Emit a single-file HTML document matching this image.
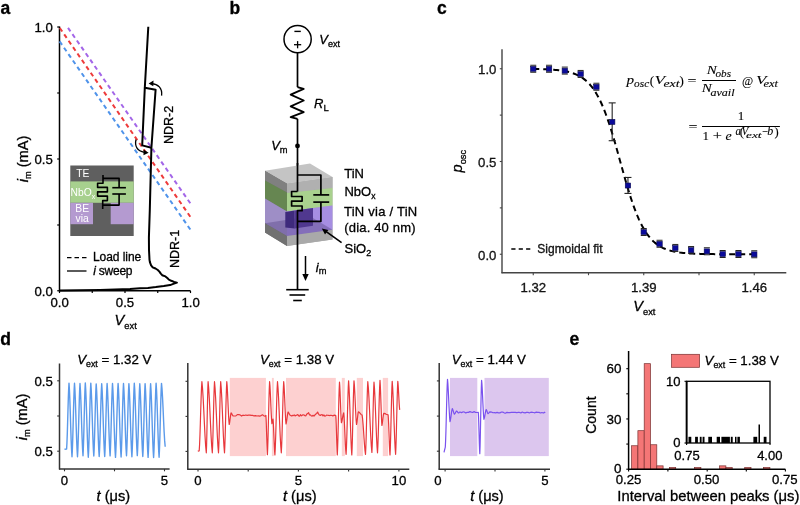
<!DOCTYPE html>
<html><head><meta charset="utf-8"><style>
html,body{margin:0;padding:0;background:#fff;}
svg{display:block;filter:blur(0.4px);}
text{stroke:#000;stroke-width:0.3px;}
text.w{stroke:none;}
text.n{stroke-width:0.1px;}

</style></head><body>
<svg width="800" height="505" viewBox="0 0 800 505">
<rect width="800" height="505" fill="#fff"/>
<text  x="0.50" y="14.00" font-size="17.5" text-anchor="start" fill="#000" font-weight="bold" font-style="normal" font-family='"Liberation Sans", sans-serif' >a</text>
<text  x="229.50" y="14.00" font-size="17.5" text-anchor="start" fill="#000" font-weight="bold" font-style="normal" font-family='"Liberation Sans", sans-serif' >b</text>
<text  x="437.00" y="14.00" font-size="17.5" text-anchor="start" fill="#000" font-weight="bold" font-style="normal" font-family='"Liberation Sans", sans-serif' >c</text>
<text  x="0.30" y="345.00" font-size="17.5" text-anchor="start" fill="#000" font-weight="bold" font-style="normal" font-family='"Liberation Sans", sans-serif' >d</text>
<text  x="569.60" y="345.20" font-size="17.5" text-anchor="start" fill="#000" font-weight="bold" font-style="normal" font-family='"Liberation Sans", sans-serif' >e</text>
<line x1="59.50" y1="26.50" x2="59.50" y2="291.25" stroke="#000" stroke-width="1.5" />
<line x1="58.80" y1="290.75" x2="190.50" y2="290.75" stroke="#000" stroke-width="1.5" />
<line x1="57.20" y1="27.00" x2="59.50" y2="27.00" stroke="#000" stroke-width="1.2" />
<line x1="57.20" y1="93.00" x2="59.50" y2="93.00" stroke="#000" stroke-width="1.2" />
<line x1="57.20" y1="159.00" x2="59.50" y2="159.00" stroke="#000" stroke-width="1.2" />
<line x1="57.20" y1="225.00" x2="59.50" y2="225.00" stroke="#000" stroke-width="1.2" />
<line x1="57.20" y1="290.75" x2="59.50" y2="290.75" stroke="#000" stroke-width="1.2" />
<line x1="59.50" y1="290.75" x2="59.50" y2="293.05" stroke="#000" stroke-width="1.2" />
<line x1="92.25" y1="290.75" x2="92.25" y2="293.05" stroke="#000" stroke-width="1.2" />
<line x1="125.00" y1="290.75" x2="125.00" y2="293.05" stroke="#000" stroke-width="1.2" />
<line x1="157.75" y1="290.75" x2="157.75" y2="293.05" stroke="#000" stroke-width="1.2" />
<line x1="190.50" y1="290.75" x2="190.50" y2="293.05" stroke="#000" stroke-width="1.2" />
<text  x="52.80" y="32.20" font-size="13.2" text-anchor="end" fill="#000" font-weight="normal" font-style="normal" font-family='"Liberation Sans", sans-serif' >1.0</text>
<text  x="52.80" y="164.00" font-size="13.2" text-anchor="end" fill="#000" font-weight="normal" font-style="normal" font-family='"Liberation Sans", sans-serif' >0.5</text>
<text  x="52.80" y="295.80" font-size="13.2" text-anchor="end" fill="#000" font-weight="normal" font-style="normal" font-family='"Liberation Sans", sans-serif' >0.0</text>
<text  x="59.60" y="306.80" font-size="13.2" text-anchor="middle" fill="#000" font-weight="normal" font-style="normal" font-family='"Liberation Sans", sans-serif' >0.0</text>
<text  x="125.00" y="306.80" font-size="13.2" text-anchor="middle" fill="#000" font-weight="normal" font-style="normal" font-family='"Liberation Sans", sans-serif' >0.5</text>
<text  x="190.70" y="306.80" font-size="13.2" text-anchor="middle" fill="#000" font-weight="normal" font-style="normal" font-family='"Liberation Sans", sans-serif' >1.0</text>
<text x="114.6" y="325.4" font-size="14.6" text-anchor="start"   font-family='"Liberation Sans", sans-serif'><tspan font-style="italic">V</tspan><tspan font-size="9.3" dy="3.2">ext</tspan></text>
<text transform="translate(28.2,159) rotate(-90)" font-size="14.6" text-anchor="middle"   font-family='"Liberation Sans", sans-serif'><tspan font-style="italic">i</tspan><tspan font-size="9.3" dy="3.2">m</tspan><tspan dy="-3.2"> (mA)</tspan></text>
<line x1="190.30" y1="203.30" x2="68.00" y2="27.80" stroke="#a366e8" stroke-width="2" stroke-dasharray="4.3 3.463"/>
<line x1="190.30" y1="216.80" x2="59.80" y2="28.00" stroke="#ee3b3b" stroke-width="2" stroke-dasharray="4.3 3.466"/>
<line x1="190.30" y1="229.50" x2="59.60" y2="41.40" stroke="#4f93ea" stroke-width="2" stroke-dasharray="4.3 3.450"/>
<rect x="70.30" y="165.50" width="63.40" height="70.50" fill="#5f5f5f" stroke="none" stroke-width="1" />
<rect x="70.30" y="181.40" width="63.40" height="21.40" fill="#a7d08e" stroke="none" stroke-width="1" />
<rect x="70.30" y="202.80" width="22.70" height="21.40" fill="#b49ad0" stroke="none" stroke-width="1" />
<rect x="110.70" y="202.80" width="23.00" height="21.40" fill="#b49ad0" stroke="none" stroke-width="1" />
<text class="w" x="76.30" y="176.60" font-size="10.3" text-anchor="start" fill="#fff" font-weight="normal" font-style="normal" font-family='"Liberation Sans", sans-serif' >TE</text>
<text class="w" x="70.6" y="196.1" font-size="10.3" fill="#fff" font-family='"Liberation Sans", sans-serif'>NbO<tspan font-size="7" dy="2.9">x</tspan></text>
<text class="w" x="75.30" y="212.30" font-size="10.3" text-anchor="start" fill="#fff" font-weight="normal" font-style="normal" font-family='"Liberation Sans", sans-serif' >BE</text>
<text class="w" x="75.60" y="221.80" font-size="10.3" text-anchor="start" fill="#fff" font-weight="normal" font-style="normal" font-family='"Liberation Sans", sans-serif' >via</text>
<polyline points="103.00,175.00 103.00,183.30 97.60,183.30 97.60,187.40 107.40,187.40 107.40,191.90 97.60,191.90 97.60,196.10 107.40,196.10 107.40,200.60 102.70,200.60 102.70,208.90" stroke="#000" stroke-width="1.6" fill="none" stroke-linejoin="round" />
<polyline points="103.00,178.40 119.10,178.40 119.10,187.70" stroke="#000" stroke-width="1.6" fill="none" stroke-linejoin="round" />
<line x1="112.30" y1="187.70" x2="125.90" y2="187.70" stroke="#000" stroke-width="1.6" />
<line x1="112.30" y1="194.00" x2="125.90" y2="194.00" stroke="#000" stroke-width="1.6" />
<polyline points="119.10,194.00 119.10,205.10 102.70,205.10" stroke="#000" stroke-width="1.6" fill="none" stroke-linejoin="round" />
<line x1="67.00" y1="257.60" x2="86.50" y2="257.60" stroke="#000" stroke-width="1.3" stroke-dasharray="4.5 3"/>
<text  x="93.00" y="260.60" font-size="12" text-anchor="start" fill="#000" font-weight="normal" font-style="normal" font-family='"Liberation Sans", sans-serif' textLength="48.2" lengthAdjust="spacing">Load line</text>
<line x1="67.00" y1="271.00" x2="86.50" y2="271.00" stroke="#000" stroke-width="1.3" />
<text x="93.3" y="275.1" font-size="12" textLength="39.2" lengthAdjust="spacing" font-family='"Liberation Sans", sans-serif'><tspan font-style="italic">i</tspan> sweep</text>
<polyline points="59.50,290.40 100.00,289.90 130.00,288.90 140.00,288.30 147.90,287.90 155.80,287.10 163.80,286.10 170.10,285.10 173.30,283.90 176.90,282.60 174.10,281.90 171.30,280.80 168.90,279.60 167.30,278.00 165.40,276.40 162.20,275.20 160.80,273.60 159.40,271.60 157.80,270.00 155.50,268.50 152.70,267.30 151.10,265.30 149.90,262.10 149.50,259.80 149.00,250.00 148.90,237.60 149.80,210.00 151.40,147.80 155.60,89.70 144.80,87.70 148.30,26.70" stroke="#000" stroke-width="2.0" fill="none" stroke-linejoin="round" />
<polyline points="144.80,87.70 142.20,145.40 151.40,147.80" stroke="#000" stroke-width="2.0" fill="none" stroke-linejoin="round" />
<path d="M161.6,95.6 C162.5,88 158,84 151.5,83.6" fill="none" stroke="#000" stroke-width="1.3"/>
<polygon points="148.60,83.40 153.50,80.60 153.30,86.20" fill="#000" stroke="none" stroke-width="1" />
<path d="M136,139.5 C134.5,146 137,151 144.5,152.3" fill="none" stroke="#000" stroke-width="1.3"/>
<polygon points="148.60,152.70 143.60,149.60 143.50,155.30" fill="#000" stroke="none" stroke-width="1" />
<text transform="translate(173.3,144) rotate(-90)" font-size="12.5" font-family='"Liberation Sans", sans-serif'>NDR-2</text>
<text transform="translate(179.3,268.1) rotate(-90)" font-size="12.5" font-family='"Liberation Sans", sans-serif'>NDR-1</text>
<circle cx="297.6" cy="39.2" r="13.6" fill="none" stroke="#000" stroke-width="1.5"/>
<line x1="294.40" y1="31.40" x2="300.80" y2="31.40" stroke="#000" stroke-width="1.4" />
<line x1="294.00" y1="44.70" x2="301.20" y2="44.70" stroke="#000" stroke-width="1.3" />
<line x1="297.60" y1="41.10" x2="297.60" y2="48.30" stroke="#000" stroke-width="1.3" />
<line x1="297.50" y1="52.80" x2="297.50" y2="87.10" stroke="#000" stroke-width="1.7" />
<polyline points="297.50,87.10 303.70,88.90 290.70,94.60 303.70,100.50 290.70,106.40 303.70,112.10 290.70,117.10 297.50,118.90" stroke="#000" stroke-width="1.9" fill="none" stroke-linejoin="round" />
<line x1="297.50" y1="118.90" x2="297.50" y2="170.00" stroke="#000" stroke-width="1.7" />
<circle cx="297.5" cy="145.9" r="2.4" fill="#000"/>
<text x="319.3" y="43.5" font-size="13" text-anchor="start"   font-family='"Liberation Sans", sans-serif'><tspan font-style="italic">V</tspan><tspan font-size="9" dy="3">ext</tspan></text>
<text x="314" y="108.2" font-size="13" text-anchor="start"   font-family='"Liberation Sans", sans-serif'><tspan font-style="italic">R</tspan><tspan font-size="9.5" dy="2.7">L</tspan></text>
<text x="271.2" y="150.4" font-size="13" text-anchor="start"   font-family='"Liberation Sans", sans-serif'><tspan font-style="italic">V</tspan><tspan font-size="9.3" dy="2.8">m</tspan></text>
<polygon points="265.00,170.80 287.00,183.50 287.00,246.00 265.00,232.50" fill="#777777" stroke="none" stroke-width="1" />
<polygon points="287.00,183.50 332.50,177.00 332.50,239.50 287.00,246.00" fill="#aaaaaa" stroke="none" stroke-width="1" />
<polygon points="265.00,170.80 310.00,163.50 332.50,177.00 287.00,183.50" fill="#c4c4c4" stroke="none" stroke-width="1" />
<polygon points="265.00,170.80 287.00,183.50 287.00,192.50 265.00,180.50" fill="#808080" stroke="none" stroke-width="1" />
<polygon points="287.00,183.50 332.50,177.00 332.50,188.00 287.00,193.00" fill="#b0b0b0" stroke="none" stroke-width="1" />
<polygon points="265.00,180.50 287.00,192.50 287.00,211.50 265.00,198.50" fill="#668651" stroke="none" stroke-width="1" />
<polygon points="287.00,193.00 332.50,188.00 332.50,205.50 287.00,211.50" fill="#a9d18e" stroke="none" stroke-width="1" />
<polygon points="265.00,198.50 287.00,211.50 287.00,236.10 265.00,223.30" fill="#9e8ec6" stroke="none" stroke-width="1" />
<polygon points="287.00,211.50 332.50,205.50 332.50,229.70 287.00,236.10" fill="#a68ee2" stroke="none" stroke-width="1" />
<polygon points="265.00,223.30 287.00,236.10 287.00,246.00 265.00,232.50" fill="#717171" stroke="none" stroke-width="1" />
<polygon points="287.00,236.10 332.50,229.70 332.50,239.50 287.00,246.00" fill="#a9a9a9" stroke="none" stroke-width="1" />
<polygon points="265.00,223.30 310.00,216.20 332.50,229.70 287.00,236.10" fill="#5a4a8a" stroke="none" stroke-width="1" opacity="0.45"/>
<polygon points="285.30,211.90 294.70,210.60 294.70,228.40 285.30,227.60" fill="#3e2a7c" stroke="none" stroke-width="1" />
<polygon points="294.70,210.60 313.00,208.00 313.00,225.80 294.70,228.40" fill="#50388f" stroke="none" stroke-width="1" />
<line x1="297.50" y1="163.00" x2="297.50" y2="191.50" stroke="#000" stroke-width="1.7" />
<polyline points="297.50,191.50 291.60,191.50 291.60,196.50 302.10,196.50 302.10,201.10 291.60,201.10 291.60,206.00 302.10,206.00 302.10,210.70 297.50,210.70 297.50,289.70" stroke="#000" stroke-width="1.7" fill="none" stroke-linejoin="round" />
<polyline points="297.50,175.00 320.90,175.00 320.90,194.90" stroke="#000" stroke-width="1.7" fill="none" stroke-linejoin="round" />
<line x1="313.30" y1="194.90" x2="329.20" y2="194.90" stroke="#000" stroke-width="1.7" />
<line x1="313.30" y1="202.10" x2="329.20" y2="202.10" stroke="#000" stroke-width="1.7" />
<polyline points="320.90,202.10 320.90,221.30 297.50,221.30" stroke="#000" stroke-width="1.7" fill="none" stroke-linejoin="round" />
<text  x="344.20" y="178.00" font-size="13" text-anchor="start" fill="#000" font-weight="normal" font-style="normal" font-family='"Liberation Sans", sans-serif' >TiN</text>
<text x="344.4" y="195.5" font-size="13" font-family='"Liberation Sans", sans-serif'>NbO<tspan font-size="8.6" dy="3.3">x</tspan></text>
<text  x="344.00" y="216.00" font-size="13" text-anchor="start" fill="#000" font-weight="normal" font-style="normal" font-family='"Liberation Sans", sans-serif' textLength="73.2" lengthAdjust="spacing">TiN via / TiN</text>
<text  x="344.30" y="232.30" font-size="13" text-anchor="start" fill="#000" font-weight="normal" font-style="normal" font-family='"Liberation Sans", sans-serif' textLength="71.2" lengthAdjust="spacing">(dia. 40 nm)</text>
<text x="344.5" y="253.2" font-size="13" font-family='"Liberation Sans", sans-serif'>SiO<tspan font-size="9" dy="2.6">2</tspan></text>
<line x1="341.60" y1="242.60" x2="325.50" y2="231.20" stroke="#000" stroke-width="1.6" />
<polygon points="321.80,228.60 328.30,229.90 325.00,234.40" fill="#000" stroke="none" stroke-width="1" />
<line x1="305.50" y1="256.00" x2="305.50" y2="276.00" stroke="#000" stroke-width="1.5" />
<polygon points="305.50,281.00 302.30,274.00 308.70,274.00" fill="#000" stroke="none" stroke-width="1" />
<text x="315.8" y="271.7" font-size="13" text-anchor="start"   font-family='"Liberation Sans", sans-serif'><tspan font-style="italic">i</tspan><tspan font-size="9.3" dy="2.2">m</tspan></text>
<line x1="286.20" y1="289.70" x2="308.70" y2="289.70" stroke="#000" stroke-width="1.6" />
<line x1="289.50" y1="295.00" x2="305.20" y2="295.00" stroke="#000" stroke-width="1.6" />
<line x1="293.20" y1="300.50" x2="301.80" y2="300.50" stroke="#000" stroke-width="1.6" />
<line x1="502.00" y1="49.30" x2="502.00" y2="273.20" stroke="#444" stroke-width="1.4" />
<line x1="501.50" y1="272.70" x2="786.30" y2="272.70" stroke="#444" stroke-width="1.4" />
<line x1="499.80" y1="254.25" x2="502.00" y2="254.25" stroke="#444" stroke-width="1.1" />
<line x1="499.80" y1="207.88" x2="502.00" y2="207.88" stroke="#444" stroke-width="1.1" />
<line x1="499.80" y1="161.50" x2="502.00" y2="161.50" stroke="#444" stroke-width="1.1" />
<line x1="499.80" y1="115.12" x2="502.00" y2="115.12" stroke="#444" stroke-width="1.1" />
<line x1="499.80" y1="68.75" x2="502.00" y2="68.75" stroke="#444" stroke-width="1.1" />
<line x1="533.25" y1="272.70" x2="533.25" y2="275.20" stroke="#444" stroke-width="1.1" />
<line x1="588.50" y1="272.70" x2="588.50" y2="275.20" stroke="#444" stroke-width="1.1" />
<line x1="643.75" y1="272.70" x2="643.75" y2="275.20" stroke="#444" stroke-width="1.1" />
<line x1="699.00" y1="272.70" x2="699.00" y2="275.20" stroke="#444" stroke-width="1.1" />
<line x1="754.25" y1="272.70" x2="754.25" y2="275.20" stroke="#444" stroke-width="1.1" />
<text  x="496.40" y="74.00" font-size="13.2" text-anchor="end" fill="#222" font-weight="normal" font-style="normal" font-family='"Liberation Sans", sans-serif' >1.0</text>
<text  x="496.40" y="166.80" font-size="13.2" text-anchor="end" fill="#222" font-weight="normal" font-style="normal" font-family='"Liberation Sans", sans-serif' >0.5</text>
<text  x="496.40" y="259.60" font-size="13.2" text-anchor="end" fill="#222" font-weight="normal" font-style="normal" font-family='"Liberation Sans", sans-serif' >0.0</text>
<text  x="533.25" y="292.20" font-size="13.2" text-anchor="middle" fill="#222" font-weight="normal" font-style="normal" font-family='"Liberation Sans", sans-serif' >1.32</text>
<text  x="643.75" y="292.20" font-size="13.2" text-anchor="middle" fill="#222" font-weight="normal" font-style="normal" font-family='"Liberation Sans", sans-serif' >1.39</text>
<text  x="754.25" y="292.20" font-size="13.2" text-anchor="middle" fill="#222" font-weight="normal" font-style="normal" font-family='"Liberation Sans", sans-serif' >1.46</text>
<text x="633.3" y="311.3" font-size="14.6" text-anchor="start"   font-family='"Liberation Sans", sans-serif'><tspan font-style="italic">V</tspan><tspan font-size="9.3" dy="3.2">ext</tspan></text>
<text transform="translate(462.4,161.2) rotate(-90)" font-size="14.6" text-anchor="middle"   font-family='"Liberation Sans", sans-serif'><tspan font-style="italic">p</tspan><tspan font-size="9.3" dy="3.2">osc</tspan></text>
<polyline points="533.25,68.96 534.83,68.98 536.41,69.01 537.99,69.05 539.56,69.09 541.14,69.13 542.72,69.18 544.30,69.24 545.88,69.30 547.46,69.37 549.04,69.45 550.61,69.55 552.19,69.65 553.77,69.77 555.35,69.90 556.93,70.05 558.51,70.22 560.09,70.41 561.66,70.63 563.24,70.87 564.82,71.15 566.40,71.46 567.98,71.81 569.56,72.21 571.14,72.65 572.71,73.15 574.29,73.71 575.87,74.35 577.45,75.06 579.03,75.85 580.61,76.75 582.19,77.75 583.76,78.87 585.34,80.11 586.92,81.51 588.50,83.05 590.08,84.77 591.66,86.67 593.24,88.77 594.81,91.09 596.39,93.63 597.97,96.42 599.55,99.45 601.13,102.75 602.71,106.31 604.29,110.15 605.86,114.25 607.44,118.63 609.02,123.26 610.60,128.13 612.18,133.22 613.76,138.51 615.34,143.96 616.91,149.54 618.49,155.21 620.07,160.93 621.65,166.65 623.23,172.33 624.81,177.93 626.39,183.41 627.96,188.74 629.54,193.87 631.12,198.79 632.70,203.47 634.28,207.89 635.86,212.05 637.44,215.94 639.01,219.56 640.59,222.91 642.17,226.00 643.75,228.83 645.33,231.42 646.91,233.78 648.49,235.92 650.06,237.86 651.64,239.62 653.22,241.20 654.80,242.62 656.38,243.90 657.96,245.04 659.54,246.06 661.11,246.98 662.69,247.79 664.27,248.52 665.85,249.17 667.43,249.74 669.01,250.25 670.59,250.71 672.16,251.11 673.74,251.47 675.32,251.79 676.90,252.07 678.48,252.32 680.06,252.55 681.64,252.74 683.21,252.92 684.79,253.07 686.37,253.21 687.95,253.33 689.53,253.43 691.11,253.53 692.69,253.61 694.26,253.69 695.84,253.75 697.42,253.81 699.00,253.86 700.58,253.91 702.16,253.95 703.74,253.98 705.31,254.01 706.89,254.04 708.47,254.06 710.05,254.09 711.63,254.10 713.21,254.12 714.79,254.14 716.36,254.15 717.94,254.16 719.52,254.17 721.10,254.18 722.68,254.19 724.26,254.20 725.84,254.20 727.41,254.21 728.99,254.21 730.57,254.22 732.15,254.22 733.73,254.22 735.31,254.23 736.89,254.23 738.46,254.23 740.04,254.23 741.62,254.24 743.20,254.24 744.78,254.24 746.36,254.24 747.94,254.24 749.51,254.24 751.09,254.24 752.67,254.24 754.25,254.24" stroke="#000" stroke-width="2.0" fill="none" stroke-linejoin="round" stroke-dasharray="6 4"/>
<line x1="530.25" y1="65.25" x2="536.25" y2="65.25" stroke="#222" stroke-width="1.0" />
<line x1="530.25" y1="72.25" x2="536.25" y2="72.25" stroke="#222" stroke-width="1.0" />
<rect x="530.55" y="66.35" width="5.40" height="5.00" fill="#0a0a9a" stroke="#0a0a50" stroke-width="0.6" />
<line x1="546.04" y1="65.25" x2="552.04" y2="65.25" stroke="#222" stroke-width="1.0" />
<line x1="546.04" y1="72.25" x2="552.04" y2="72.25" stroke="#222" stroke-width="1.0" />
<rect x="546.34" y="66.35" width="5.40" height="5.00" fill="#0a0a9a" stroke="#0a0a50" stroke-width="0.6" />
<line x1="561.82" y1="67.10" x2="567.82" y2="67.10" stroke="#222" stroke-width="1.0" />
<line x1="561.82" y1="74.10" x2="567.82" y2="74.10" stroke="#222" stroke-width="1.0" />
<rect x="562.12" y="68.20" width="5.40" height="5.00" fill="#0a0a9a" stroke="#0a0a50" stroke-width="0.6" />
<line x1="577.61" y1="70.44" x2="583.61" y2="70.44" stroke="#222" stroke-width="1.0" />
<line x1="577.61" y1="77.44" x2="583.61" y2="77.44" stroke="#222" stroke-width="1.0" />
<rect x="577.91" y="71.54" width="5.40" height="5.00" fill="#0a0a9a" stroke="#0a0a50" stroke-width="0.6" />
<line x1="593.39" y1="83.24" x2="599.39" y2="83.24" stroke="#222" stroke-width="1.0" />
<line x1="593.39" y1="90.24" x2="599.39" y2="90.24" stroke="#222" stroke-width="1.0" />
<rect x="593.69" y="84.34" width="5.40" height="5.00" fill="#0a0a9a" stroke="#0a0a50" stroke-width="0.6" />
<line x1="612.18" y1="102.88" x2="612.18" y2="140.72" stroke="#222" stroke-width="1.1" />
<line x1="608.68" y1="102.88" x2="615.68" y2="102.88" stroke="#222" stroke-width="1.1" />
<line x1="608.68" y1="140.72" x2="615.68" y2="140.72" stroke="#222" stroke-width="1.1" />
<rect x="609.48" y="119.40" width="5.40" height="5.00" fill="#0a0a9a" stroke="#0a0a50" stroke-width="0.6" />
<line x1="627.96" y1="177.45" x2="627.96" y2="193.41" stroke="#222" stroke-width="1.1" />
<line x1="624.46" y1="177.45" x2="631.46" y2="177.45" stroke="#222" stroke-width="1.1" />
<line x1="624.46" y1="193.41" x2="631.46" y2="193.41" stroke="#222" stroke-width="1.1" />
<rect x="625.26" y="183.03" width="5.40" height="5.00" fill="#0a0a9a" stroke="#0a0a50" stroke-width="0.6" />
<line x1="640.75" y1="228.49" x2="646.75" y2="228.49" stroke="#222" stroke-width="1.0" />
<line x1="640.75" y1="235.49" x2="646.75" y2="235.49" stroke="#222" stroke-width="1.0" />
<rect x="641.05" y="229.59" width="5.40" height="5.00" fill="#0a0a9a" stroke="#0a0a50" stroke-width="0.6" />
<line x1="656.54" y1="240.25" x2="662.54" y2="240.25" stroke="#222" stroke-width="1.0" />
<line x1="656.54" y1="247.25" x2="662.54" y2="247.25" stroke="#222" stroke-width="1.0" />
<rect x="656.84" y="241.35" width="5.40" height="5.00" fill="#0a0a9a" stroke="#0a0a50" stroke-width="0.6" />
<line x1="672.32" y1="244.44" x2="678.32" y2="244.44" stroke="#222" stroke-width="1.0" />
<line x1="672.32" y1="251.44" x2="678.32" y2="251.44" stroke="#222" stroke-width="1.0" />
<rect x="672.62" y="245.54" width="5.40" height="5.00" fill="#0a0a9a" stroke="#0a0a50" stroke-width="0.6" />
<line x1="688.11" y1="246.56" x2="694.11" y2="246.56" stroke="#222" stroke-width="1.0" />
<line x1="688.11" y1="253.56" x2="694.11" y2="253.56" stroke="#222" stroke-width="1.0" />
<rect x="688.41" y="247.66" width="5.40" height="5.00" fill="#0a0a9a" stroke="#0a0a50" stroke-width="0.6" />
<line x1="703.89" y1="247.78" x2="709.89" y2="247.78" stroke="#222" stroke-width="1.0" />
<line x1="703.89" y1="254.78" x2="709.89" y2="254.78" stroke="#222" stroke-width="1.0" />
<rect x="704.19" y="248.88" width="5.40" height="5.00" fill="#0a0a9a" stroke="#0a0a50" stroke-width="0.6" />
<line x1="719.68" y1="250.51" x2="725.68" y2="250.51" stroke="#222" stroke-width="1.0" />
<line x1="719.68" y1="257.51" x2="725.68" y2="257.51" stroke="#222" stroke-width="1.0" />
<rect x="719.98" y="251.61" width="5.40" height="5.00" fill="#0a0a9a" stroke="#0a0a50" stroke-width="0.6" />
<line x1="735.46" y1="250.51" x2="741.46" y2="250.51" stroke="#222" stroke-width="1.0" />
<line x1="735.46" y1="257.51" x2="741.46" y2="257.51" stroke="#222" stroke-width="1.0" />
<rect x="735.76" y="251.61" width="5.40" height="5.00" fill="#0a0a9a" stroke="#0a0a50" stroke-width="0.6" />
<line x1="751.25" y1="250.75" x2="757.25" y2="250.75" stroke="#222" stroke-width="1.0" />
<line x1="751.25" y1="257.75" x2="757.25" y2="257.75" stroke="#222" stroke-width="1.0" />
<rect x="751.55" y="251.85" width="5.40" height="5.00" fill="#0a0a9a" stroke="#0a0a50" stroke-width="0.6" />
<line x1="511.30" y1="249.00" x2="531.30" y2="249.00" stroke="#000" stroke-width="1.4" stroke-dasharray="4.2 3.2"/>
<text  x="537.30" y="253.30" font-size="12" text-anchor="start" fill="#222" font-weight="normal" font-style="normal" font-family='"Liberation Sans", sans-serif' textLength="65.3" lengthAdjust="spacing">Sigmoidal fit</text>
<text class="n" x="626.6" y="84.3" font-size="13.0" font-style="italic" text-anchor="start" font-family='"Liberation Serif", serif' textLength="7.6" lengthAdjust="spacingAndGlyphs">p</text>
<text class="n" x="634.0" y="87.2" font-size="10.0" font-style="italic" text-anchor="start" font-family='"Liberation Serif", serif' textLength="15.2" lengthAdjust="spacingAndGlyphs">osc</text>
<text class="n" x="649.8" y="84.8" font-size="13.0" font-style="normal" text-anchor="start" font-family='"Liberation Serif", serif' >(</text>
<text class="n" x="654.6" y="84.0" font-size="13.0" font-style="italic" text-anchor="start" font-family='"Liberation Serif", serif' textLength="10.5" lengthAdjust="spacingAndGlyphs">V</text>
<text class="n" x="663.4" y="87.2" font-size="10.0" font-style="italic" text-anchor="start" font-family='"Liberation Serif", serif' textLength="16.2" lengthAdjust="spacingAndGlyphs">ext</text>
<text class="n" x="679.6" y="84.8" font-size="13.0" font-style="normal" text-anchor="start" font-family='"Liberation Serif", serif' >)</text>
<text class="n" x="687.6" y="85.0" font-size="13.0" font-style="normal" text-anchor="start" font-family='"Liberation Serif", serif' textLength="9.0" lengthAdjust="spacingAndGlyphs">=</text>
<line x1="702.00" y1="80.50" x2="736.00" y2="80.50" stroke="#000" stroke-width="1.0" />
<text class="n" x="706.8" y="73.8" font-size="13.0" font-style="italic" text-anchor="start" font-family='"Liberation Serif", serif' textLength="10.0" lengthAdjust="spacingAndGlyphs">N</text>
<text class="n" x="715.5" y="77.2" font-size="10.0" font-style="italic" text-anchor="start" font-family='"Liberation Serif", serif' textLength="15.6" lengthAdjust="spacingAndGlyphs">obs</text>
<text class="n" x="701.8" y="92.4" font-size="13.0" font-style="italic" text-anchor="start" font-family='"Liberation Serif", serif' textLength="10.0" lengthAdjust="spacingAndGlyphs">N</text>
<text class="n" x="710.4" y="95.7" font-size="10.0" font-style="italic" text-anchor="start" font-family='"Liberation Serif", serif' textLength="24.2" lengthAdjust="spacingAndGlyphs">avail</text>
<text class="n" x="742.0" y="85.2" font-size="13.0" font-style="normal" text-anchor="start" font-family='"Liberation Serif", serif' textLength="11.2" lengthAdjust="spacingAndGlyphs">@</text>
<text class="n" x="756.0" y="83.6" font-size="13.0" font-style="italic" text-anchor="start" font-family='"Liberation Serif", serif' textLength="10.5" lengthAdjust="spacingAndGlyphs">V</text>
<text class="n" x="763.4" y="87.3" font-size="10.0" font-style="italic" text-anchor="start" font-family='"Liberation Serif", serif' textLength="14.6" lengthAdjust="spacingAndGlyphs">ext</text>
<text class="n" x="688.4" y="130.5" font-size="13.0" font-style="normal" text-anchor="start" font-family='"Liberation Serif", serif' textLength="9.0" lengthAdjust="spacingAndGlyphs">=</text>
<line x1="702.00" y1="126.50" x2="779.90" y2="126.50" stroke="#000" stroke-width="1.0" />
<text class="n" x="740.9" y="120.0" font-size="13.0" font-style="normal" text-anchor="middle" font-family='"Liberation Serif", serif' >1</text>
<text class="n" x="702.4" y="139.7" font-size="13.0" font-style="normal" text-anchor="start" font-family='"Liberation Serif", serif' >1</text>
<text class="n" x="712.8" y="139.7" font-size="13.0" font-style="normal" text-anchor="start" font-family='"Liberation Serif", serif' textLength="9.2" lengthAdjust="spacingAndGlyphs">+</text>
<text class="n" x="725.4" y="139.7" font-size="13.0" font-style="italic" text-anchor="start" font-family='"Liberation Serif", serif' textLength="6.2" lengthAdjust="spacingAndGlyphs">e</text>
<text class="n" x="735.5" y="135.2" font-size="12.5" font-style="italic" text-anchor="start" font-family='"Liberation Serif", serif' textLength="5.4" lengthAdjust="spacingAndGlyphs">a</text>
<text class="n" x="739.8" y="136.2" font-size="12.5" font-style="normal" text-anchor="start" font-family='"Liberation Serif", serif' >(</text>
<text class="n" x="741.4" y="135.2" font-size="12.5" font-style="italic" text-anchor="start" font-family='"Liberation Serif", serif' textLength="6.8" lengthAdjust="spacingAndGlyphs">V</text>
<text class="n" x="746.0" y="138.0" font-size="8.5" font-style="italic" text-anchor="start" font-family='"Liberation Serif", serif' textLength="15.6" lengthAdjust="spacingAndGlyphs">ext</text>
<text class="n" x="762.0" y="135.6" font-size="12.5" font-style="normal" text-anchor="start" font-family='"Liberation Serif", serif' textLength="5.8" lengthAdjust="spacingAndGlyphs">−</text>
<text class="n" x="767.3" y="135.2" font-size="12.5" font-style="italic" text-anchor="start" font-family='"Liberation Serif", serif' textLength="6.0" lengthAdjust="spacingAndGlyphs">b</text>
<text class="n" x="774.6" y="136.2" font-size="12.5" font-style="normal" text-anchor="start" font-family='"Liberation Serif", serif' >)</text>
<line x1="59.50" y1="363.50" x2="59.50" y2="469.50" stroke="#333" stroke-width="1.5" />
<line x1="59.00" y1="469.00" x2="169.60" y2="469.00" stroke="#333" stroke-width="1.5" />
<line x1="57.20" y1="380.80" x2="59.50" y2="380.80" stroke="#333" stroke-width="1.1" />
<line x1="57.20" y1="416.00" x2="59.50" y2="416.00" stroke="#333" stroke-width="1.1" />
<line x1="57.20" y1="451.20" x2="59.50" y2="451.20" stroke="#333" stroke-width="1.1" />
<line x1="64.50" y1="469.00" x2="64.50" y2="471.30" stroke="#333" stroke-width="1.1" />
<line x1="114.50" y1="469.00" x2="114.50" y2="471.30" stroke="#333" stroke-width="1.1" />
<line x1="164.50" y1="469.00" x2="164.50" y2="471.30" stroke="#333" stroke-width="1.1" />
<text  x="64.50" y="484.70" font-size="13.2" text-anchor="middle" fill="#000" font-weight="normal" font-style="normal" font-family='"Liberation Sans", sans-serif' >0</text>
<text  x="164.50" y="484.70" font-size="13.2" text-anchor="middle" fill="#000" font-weight="normal" font-style="normal" font-family='"Liberation Sans", sans-serif' >5</text>
<text x="77.2" y="363.5" font-size="13.3" text-anchor="start"   font-family='"Liberation Sans", sans-serif'><tspan font-style="italic">V</tspan><tspan font-size="8.8" dy="3">ext</tspan><tspan dy="-3"> = 1.32 V</tspan></text>
<text x="96.6" y="500.6" font-size="14.6" text-anchor="start"   font-family='"Liberation Sans", sans-serif'><tspan font-style="italic">t</tspan><tspan dy="0"> (μs)</tspan></text>
<text  x="52.80" y="385.60" font-size="13.2" text-anchor="end" fill="#000" font-weight="normal" font-style="normal" font-family='"Liberation Sans", sans-serif' >0.5</text>
<text  x="52.80" y="455.80" font-size="13.2" text-anchor="end" fill="#000" font-weight="normal" font-style="normal" font-family='"Liberation Sans", sans-serif' >0.5</text>
<text transform="translate(27.2,417) rotate(-90)" font-size="14.6" text-anchor="middle"   font-family='"Liberation Sans", sans-serif'><tspan font-style="italic">i</tspan><tspan font-size="9.3" dy="3.2">m</tspan><tspan dy="-3.2"> (mA)</tspan></text>
<line x1="187.80" y1="363.00" x2="187.80" y2="469.70" stroke="#333" stroke-width="1.5" />
<line x1="187.30" y1="469.20" x2="409.30" y2="469.20" stroke="#333" stroke-width="1.5" />
<line x1="185.50" y1="381.30" x2="187.80" y2="381.30" stroke="#333" stroke-width="1.1" />
<line x1="185.50" y1="416.40" x2="187.80" y2="416.40" stroke="#333" stroke-width="1.1" />
<line x1="185.50" y1="451.40" x2="187.80" y2="451.40" stroke="#333" stroke-width="1.1" />
<line x1="198.00" y1="469.20" x2="198.00" y2="471.50" stroke="#333" stroke-width="1.1" />
<line x1="248.20" y1="469.20" x2="248.20" y2="471.50" stroke="#333" stroke-width="1.1" />
<line x1="298.40" y1="469.20" x2="298.40" y2="471.50" stroke="#333" stroke-width="1.1" />
<line x1="348.60" y1="469.20" x2="348.60" y2="471.50" stroke="#333" stroke-width="1.1" />
<line x1="398.90" y1="469.20" x2="398.90" y2="471.50" stroke="#333" stroke-width="1.1" />
<text  x="198.00" y="484.70" font-size="13.2" text-anchor="middle" fill="#000" font-weight="normal" font-style="normal" font-family='"Liberation Sans", sans-serif' >0</text>
<text  x="298.40" y="484.70" font-size="13.2" text-anchor="middle" fill="#000" font-weight="normal" font-style="normal" font-family='"Liberation Sans", sans-serif' >5</text>
<text  x="398.90" y="484.70" font-size="13.2" text-anchor="middle" fill="#000" font-weight="normal" font-style="normal" font-family='"Liberation Sans", sans-serif' >10</text>
<text x="259.9" y="363.5" font-size="13.3" text-anchor="start"   font-family='"Liberation Sans", sans-serif'><tspan font-style="italic">V</tspan><tspan font-size="8.8" dy="3">ext</tspan><tspan dy="-3"> = 1.38 V</tspan></text>
<text x="283" y="500.6" font-size="14.6" text-anchor="start"   font-family='"Liberation Sans", sans-serif'><tspan font-style="italic">t</tspan><tspan dy="0"> (μs)</tspan></text>
<line x1="439.20" y1="363.00" x2="439.20" y2="469.70" stroke="#333" stroke-width="1.5" />
<line x1="438.70" y1="469.20" x2="550.00" y2="469.20" stroke="#333" stroke-width="1.5" />
<line x1="436.90" y1="380.90" x2="439.20" y2="380.90" stroke="#333" stroke-width="1.1" />
<line x1="436.90" y1="416.10" x2="439.20" y2="416.10" stroke="#333" stroke-width="1.1" />
<line x1="436.90" y1="451.20" x2="439.20" y2="451.20" stroke="#333" stroke-width="1.1" />
<line x1="445.10" y1="469.20" x2="445.10" y2="471.50" stroke="#333" stroke-width="1.1" />
<line x1="495.00" y1="469.20" x2="495.00" y2="471.50" stroke="#333" stroke-width="1.1" />
<line x1="544.90" y1="469.20" x2="544.90" y2="471.50" stroke="#333" stroke-width="1.1" />
<text  x="438.00" y="484.70" font-size="13.2" text-anchor="middle" fill="#000" font-weight="normal" font-style="normal" font-family='"Liberation Sans", sans-serif' >0</text>
<text  x="544.90" y="484.70" font-size="13.2" text-anchor="middle" fill="#000" font-weight="normal" font-style="normal" font-family='"Liberation Sans", sans-serif' >5</text>
<text x="451.7" y="363.5" font-size="13.3" text-anchor="start"   font-family='"Liberation Sans", sans-serif'><tspan font-style="italic">V</tspan><tspan font-size="8.8" dy="3">ext</tspan><tspan dy="-3"> = 1.44 V</tspan></text>
<text x="470.2" y="500.6" font-size="14.6" text-anchor="start"   font-family='"Liberation Sans", sans-serif'><tspan font-style="italic">t</tspan><tspan dy="0"> (μs)</tspan></text>
<rect x="229.80" y="377.90" width="36.10" height="78.20" fill="#fdd0d0" stroke="none" stroke-width="1" />
<rect x="271.90" y="377.90" width="1.90" height="78.20" fill="#fdd0d0" stroke="none" stroke-width="1" />
<rect x="286.00" y="377.90" width="49.80" height="78.20" fill="#fdd0d0" stroke="none" stroke-width="1" />
<rect x="341.80" y="377.90" width="3.00" height="78.20" fill="#fdd0d0" stroke="none" stroke-width="1" />
<rect x="356.80" y="377.90" width="6.20" height="78.20" fill="#fdd0d0" stroke="none" stroke-width="1" />
<rect x="382.80" y="377.90" width="5.30" height="78.20" fill="#fdd0d0" stroke="none" stroke-width="1" />
<rect x="450.00" y="377.90" width="27.30" height="78.20" fill="#dcc6ee" stroke="none" stroke-width="1" />
<rect x="484.50" y="377.90" width="64.30" height="78.20" fill="#dcc6ee" stroke="none" stroke-width="1" />
<polyline points="64.50,449.30 66.60,449.00 66.94,442.97 67.29,433.71 67.63,422.22 67.97,409.92 68.31,398.43 68.66,389.17 69.00,383.14 69.43,389.87 69.86,400.21 70.29,413.05 70.71,426.78 71.14,439.62 71.57,449.96 72.00,456.69 72.36,449.97 72.71,439.65 73.07,426.83 73.43,413.13 73.79,400.31 74.14,389.99 74.50,383.27 74.93,390.00 75.36,400.34 75.79,413.18 76.21,426.90 76.64,439.74 77.07,450.08 77.50,456.81 77.86,450.10 78.21,439.80 78.57,427.01 78.93,413.33 79.29,400.54 79.64,390.23 80.00,383.53 80.43,390.13 80.86,400.29 81.29,412.89 81.71,426.37 82.14,438.97 82.57,449.12 83.00,455.73 83.33,449.07 83.66,438.83 83.99,426.12 84.31,412.53 84.64,399.82 84.97,389.58 85.30,382.91 85.73,389.72 86.16,400.17 86.59,413.15 87.01,427.03 87.44,440.01 87.87,450.47 88.30,457.27 88.66,450.49 89.01,440.07 89.37,427.13 89.73,413.30 90.09,400.36 90.44,389.94 90.80,383.16 91.23,389.83 91.66,400.08 92.09,412.81 92.51,426.42 92.94,439.15 93.37,449.40 93.80,456.07 94.14,449.46 94.49,439.32 94.83,426.72 95.17,413.25 95.51,400.65 95.86,390.50 96.20,383.90 96.63,390.54 97.06,400.76 97.49,413.44 97.91,427.00 98.34,439.68 98.77,449.89 99.20,456.54 99.56,449.88 99.91,439.64 100.27,426.93 100.63,413.34 100.99,400.64 101.34,390.40 101.70,383.74 102.13,390.40 102.56,400.64 102.99,413.35 103.41,426.94 103.84,439.65 104.27,449.89 104.70,456.55 105.04,449.87 105.39,439.61 105.73,426.86 106.07,413.23 106.41,400.49 106.76,390.22 107.10,383.54 107.53,390.16 107.96,400.34 108.39,412.97 108.81,426.47 109.24,439.11 109.67,449.28 110.10,455.90 110.44,449.28 110.79,439.10 111.13,426.47 111.47,412.96 111.81,400.33 112.16,390.16 112.50,383.53 112.93,390.29 113.36,400.66 113.79,413.55 114.21,427.32 114.64,440.21 115.07,450.58 115.50,457.34 115.87,450.57 116.24,440.18 116.61,427.28 116.99,413.48 117.36,400.58 117.73,390.19 118.10,383.42 118.53,390.16 118.96,400.52 119.39,413.38 119.81,427.13 120.24,439.99 120.67,450.34 121.10,457.08 121.44,450.35 121.79,440.02 122.13,427.19 122.47,413.47 122.81,400.63 123.16,390.30 123.50,383.57 123.93,390.18 124.36,400.32 124.79,412.91 125.21,426.38 125.64,438.98 126.07,449.12 126.50,455.73 126.84,449.13 127.19,439.00 127.53,426.42 127.87,412.97 128.21,400.39 128.56,390.25 128.90,383.66 129.33,390.35 129.76,400.63 130.19,413.40 130.61,427.05 131.04,439.81 131.47,450.09 131.90,456.78 132.24,450.05 132.59,439.70 132.93,426.86 133.27,413.12 133.61,400.28 133.96,389.94 134.30,383.20 134.73,389.83 135.16,400.02 135.59,412.67 136.01,426.19 136.44,438.84 136.87,449.03 137.30,455.66 137.66,449.08 138.01,438.97 138.37,426.42 138.73,413.00 139.09,400.45 139.44,390.35 139.80,383.77 140.23,390.43 140.66,400.66 141.09,413.36 141.51,426.95 141.94,439.65 142.37,449.88 142.80,456.55 143.13,449.87 143.46,439.62 143.79,426.89 144.11,413.28 144.44,400.55 144.77,390.29 145.10,383.62 145.53,390.37 145.96,400.73 146.39,413.61 146.81,427.37 147.24,440.24 147.67,450.61 148.10,457.36 148.46,450.61 148.81,440.24 149.17,427.37 149.53,413.60 149.89,400.73 150.24,390.36 150.60,383.61 151.03,390.37 151.46,400.75 151.89,413.64 152.31,427.42 152.74,440.31 153.17,450.69 153.60,457.44 153.96,450.66 154.31,440.23 154.67,427.29 155.03,413.45 155.39,400.51 155.74,390.08 156.10,383.29 156.53,390.06 156.96,400.45 157.39,413.35 157.81,427.15 158.24,440.05 158.67,450.44 159.10,457.20 159.44,450.44 159.79,440.06 160.13,427.17 160.47,413.38 160.81,400.49 161.16,390.10 161.50,383.34 162.03,389.14 162.56,398.05 163.09,409.11 163.61,420.94 164.14,431.99 164.67,440.90 165.20,446.70" stroke="#5b9aea" stroke-width="1.4" fill="none" stroke-linejoin="round" />
<polyline points="197.80,451.20 199.20,450.80 199.59,444.48 199.97,434.76 200.36,422.70 200.74,409.80 201.13,397.74 201.51,388.02 201.90,381.70 202.53,388.21 203.16,398.20 203.79,410.61 204.41,423.89 205.04,436.30 205.67,446.29 206.30,452.80 206.56,446.29 206.81,436.30 207.07,423.89 207.33,410.61 207.59,398.20 207.84,388.21 208.10,381.70 208.70,388.21 209.30,398.20 209.90,410.61 210.50,423.89 211.10,436.30 211.70,446.29 212.30,452.80 212.61,446.29 212.93,436.30 213.24,423.89 213.56,410.61 213.87,398.20 214.19,388.21 214.50,381.70 215.07,388.21 215.64,398.20 216.21,410.61 216.79,423.89 217.36,436.30 217.93,446.29 218.50,452.80 218.81,446.29 219.13,436.30 219.44,423.89 219.76,410.61 220.07,398.20 220.39,388.21 220.70,381.70 221.24,388.21 221.79,398.20 222.33,410.61 222.87,423.89 223.41,436.30 223.96,446.29 224.50,452.80 224.83,446.29 225.16,436.30 225.49,423.89 225.81,410.61 226.14,398.20 226.47,388.21 226.80,381.70 227.14,385.62 227.49,391.63 227.83,399.11 228.17,407.09 228.51,414.57 228.86,420.58 229.20,424.50 229.47,423.44 229.74,421.81 230.01,419.78 230.29,417.62 230.56,415.59 230.83,413.96 231.10,412.90 231.37,413.17 231.64,413.57 231.91,414.08 232.19,414.62 232.46,415.13 232.73,415.53 233.00,415.80 234.50,416.00 235.90,415.91 237.30,414.66 238.70,414.72 240.10,414.85 241.50,416.04 242.90,415.20 244.30,415.50 245.70,414.98 247.10,415.31 248.50,415.12 249.90,415.06 251.30,415.44 252.70,415.43 254.10,415.95 255.50,415.59 256.90,415.99 258.30,415.87 259.70,416.09 261.10,415.57 262.50,414.76 263.90,415.88 265.30,416.04 265.90,415.50 266.11,419.08 266.33,424.58 266.54,431.40 266.76,438.70 266.97,445.52 267.19,451.02 267.40,454.60 267.71,447.93 268.03,437.68 268.34,424.95 268.66,411.35 268.97,398.62 269.29,388.37 269.60,381.70 269.93,385.53 270.26,391.43 270.59,398.74 270.91,406.56 271.24,413.87 271.57,419.77 271.90,423.60 272.06,423.18 272.21,422.53 272.37,421.73 272.53,420.87 272.69,420.07 272.84,419.42 273.00,419.00 273.27,422.29 273.54,427.36 273.81,433.64 274.09,440.36 274.36,446.64 274.63,451.71 274.90,455.00 275.27,448.29 275.64,437.99 276.01,425.19 276.39,411.51 276.76,398.71 277.13,388.41 277.50,381.70 278.04,388.21 278.59,398.20 279.13,410.61 279.67,423.89 280.21,436.30 280.76,446.29 281.30,452.80 281.64,446.29 281.99,436.30 282.33,423.89 282.67,410.61 283.01,398.20 283.36,388.21 283.70,381.70 284.03,385.57 284.36,391.52 284.69,398.90 285.01,406.80 285.34,414.18 285.67,420.13 286.00,424.00 286.30,422.90 286.60,421.21 286.90,419.12 287.20,416.88 287.50,414.79 287.80,413.10 288.10,412.00 288.37,412.28 288.64,412.72 288.91,413.26 289.19,413.84 289.46,414.38 289.73,414.82 290.00,415.10 291.50,415.95 292.40,415.41 293.30,415.64 294.20,414.84 295.10,415.83 296.00,415.42 296.90,414.96 297.80,414.60 298.70,415.87 299.60,416.08 300.50,414.64 301.40,415.78 302.30,415.16 303.20,414.74 304.10,414.97 305.00,415.73 305.90,415.84 306.80,414.01 307.70,413.63 308.60,412.60 309.50,414.97 310.40,414.95 311.30,415.91 312.20,416.07 313.10,415.31 314.00,416.10 314.90,414.95 315.80,414.08 316.70,413.43 317.60,412.11 318.50,413.86 319.40,415.03 320.30,415.47 321.20,414.75 322.10,414.57 323.00,415.89 323.90,415.00 324.80,416.03 325.70,415.93 326.60,415.10 327.50,415.24 328.40,415.33 329.30,415.53 330.20,415.45 331.10,415.39 332.00,415.49 332.90,416.00 333.80,415.31 334.70,415.19 335.80,415.50 336.01,419.12 336.23,424.67 336.44,431.56 336.66,438.94 336.87,445.83 337.09,451.38 337.30,455.00 337.61,448.34 337.93,438.10 338.24,425.39 338.56,411.81 338.87,399.10 339.19,388.86 339.50,382.20 339.77,385.91 340.04,391.60 340.31,398.67 340.59,406.23 340.86,413.30 341.13,418.99 341.40,422.70 341.73,421.80 342.06,420.43 342.39,418.71 342.71,416.89 343.04,415.17 343.37,413.80 343.70,412.90 344.04,416.69 344.39,422.51 344.73,429.74 345.07,437.46 345.41,444.69 345.76,450.51 346.10,454.30 346.46,447.58 346.81,437.26 347.17,424.45 347.53,410.75 347.89,397.94 348.24,387.62 348.60,380.90 349.06,387.68 349.51,398.10 349.97,411.03 350.43,424.87 350.89,437.80 351.34,448.22 351.80,455.00 352.11,448.22 352.43,437.80 352.74,424.87 353.06,411.03 353.37,398.10 353.69,387.68 354.00,380.90 354.36,384.89 354.71,391.02 355.07,398.63 355.43,406.77 355.79,414.38 356.14,420.51 356.50,424.50 356.77,423.34 357.04,421.55 357.31,419.34 357.59,416.96 357.86,414.75 358.13,412.96 358.40,411.80 358.93,412.10 359.46,412.57 359.99,413.14 360.51,413.76 361.04,414.33 361.57,414.80 362.10,415.10 362.59,418.69 363.07,424.20 363.56,431.04 364.04,438.36 364.53,445.20 365.01,450.71 365.50,454.30 365.83,447.66 366.16,437.45 366.49,424.78 366.81,411.22 367.14,398.55 367.47,388.34 367.80,381.70 368.39,388.17 368.97,398.11 369.56,410.45 370.14,423.65 370.73,435.99 371.31,445.93 371.90,452.40 372.20,445.98 372.50,436.11 372.80,423.85 373.10,410.75 373.40,398.49 373.70,388.62 374.00,382.20 374.50,388.66 375.00,398.59 375.50,410.91 376.00,424.09 376.50,436.41 377.00,446.34 377.50,452.80 377.86,446.16 378.21,435.97 378.57,423.32 378.93,409.78 379.29,397.13 379.64,386.94 380.00,380.30 380.27,384.44 380.54,390.79 380.81,398.68 381.09,407.12 381.36,415.01 381.63,421.36 381.90,425.50 382.16,424.38 382.41,422.67 382.67,420.54 382.93,418.26 383.19,416.13 383.44,414.42 383.70,413.30 384.33,413.44 384.96,413.65 385.59,413.91 386.21,414.19 386.84,414.45 387.47,414.66 388.10,414.80 388.37,418.48 388.64,424.13 388.91,431.15 389.19,438.65 389.46,445.67 389.73,451.32 390.00,455.00 390.31,448.26 390.63,437.89 390.94,425.03 391.26,411.27 391.57,398.41 391.89,388.04 392.20,381.30 392.69,387.98 393.17,398.24 393.66,410.99 394.14,424.61 394.63,437.36 395.11,447.62 395.60,454.30 395.91,447.62 396.23,437.36 396.54,424.61 396.86,410.99 397.17,398.24 397.49,387.98 397.80,381.30 398.07,383.92 398.34,387.94 398.61,392.93 398.89,398.27 399.16,403.26 399.43,407.28 399.70,409.90" stroke="#e8383c" stroke-width="1.2" fill="none" stroke-linejoin="round" />
<polyline points="444.00,452.40 445.30,447.10 445.61,440.90 445.93,431.39 446.24,419.57 446.56,406.93 446.87,395.11 447.19,385.60 447.50,379.40 447.86,383.27 448.21,389.22 448.57,396.60 448.93,404.50 449.29,411.88 449.64,417.83 450.00,421.70 450.33,420.50 450.66,418.66 450.99,416.37 451.31,413.93 451.64,411.64 451.97,409.80 452.30,408.60 452.60,409.11 452.90,409.90 453.20,410.88 453.50,411.92 453.80,412.90 454.10,413.69 454.40,414.20 454.71,413.91 455.03,413.46 455.34,412.90 455.66,412.30 455.97,411.74 456.29,411.29 456.60,411.00 456.87,411.18 457.14,411.46 457.41,411.81 457.69,412.19 457.96,412.54 458.23,412.82 458.50,413.00 458.71,412.91 458.93,412.77 459.14,412.59 459.36,412.41 459.57,412.23 459.79,412.09 460.00,412.00 461.50,412.61 462.90,411.93 464.30,412.02 465.70,412.97 467.10,412.33 468.50,412.37 469.90,411.62 471.30,412.18 472.70,412.41 474.10,411.63 475.50,412.46 476.90,412.49 478.30,412.30 478.51,416.09 478.73,421.91 478.94,429.14 479.16,436.86 479.37,444.09 479.59,449.91 479.80,453.70 480.06,446.98 480.31,436.66 480.57,423.85 480.83,410.15 481.09,397.34 481.34,387.02 481.60,380.30 481.93,383.87 482.26,389.35 482.59,396.16 482.91,403.44 483.24,410.25 483.57,415.73 483.90,419.30 484.23,418.40 484.56,417.03 484.89,415.31 485.21,413.49 485.54,411.77 485.87,410.40 486.20,409.50 486.46,409.88 486.71,410.45 486.97,411.17 487.23,411.93 487.49,412.65 487.74,413.22 488.00,413.60 488.29,413.44 488.57,413.18 488.86,412.87 489.14,412.53 489.43,412.22 489.71,411.96 490.00,411.80 491.50,412.07 492.90,412.75 494.30,412.56 495.70,412.82 497.10,412.42 498.50,412.85 499.90,412.89 501.30,412.03 502.70,412.07 504.10,412.81 505.50,413.16 506.90,412.30 508.30,412.55 509.70,412.71 511.10,412.38 512.50,412.44 513.90,412.38 515.30,412.44 516.70,412.71 518.10,412.36 519.50,412.45 520.90,412.93 522.30,412.03 523.70,412.68 525.10,412.88 526.50,412.37 527.90,412.27 529.30,412.96 530.70,412.29 532.10,412.22 533.50,412.52 534.90,412.84 536.30,412.12 537.70,412.39 539.10,412.40 540.50,413.00 541.90,412.53 543.30,413.03 544.70,412.20 545.00,412.90" stroke="#7a52ee" stroke-width="1.2" fill="none" stroke-linejoin="round" />
<rect x="631.60" y="445.75" width="6.30" height="23.45" fill="#f47676" stroke="#7a3030" stroke-width="0.7" />
<rect x="637.90" y="430.68" width="6.30" height="38.52" fill="#f47676" stroke="#7a3030" stroke-width="0.7" />
<rect x="644.20" y="363.67" width="6.30" height="105.53" fill="#f47676" stroke="#7a3030" stroke-width="0.7" />
<rect x="650.50" y="444.75" width="6.30" height="24.45" fill="#f47676" stroke="#7a3030" stroke-width="0.7" />
<rect x="656.80" y="465.85" width="6.30" height="3.35" fill="#f47676" stroke="#7a3030" stroke-width="0.7" />
<rect x="669.40" y="467.52" width="6.30" height="1.68" fill="#f47676" stroke="#7a3030" stroke-width="0.7" />
<rect x="694.60" y="467.52" width="6.30" height="1.68" fill="#f47676" stroke="#7a3030" stroke-width="0.7" />
<rect x="719.60" y="465.85" width="6.30" height="3.35" fill="#f47676" stroke="#7a3030" stroke-width="0.7" />
<rect x="725.90" y="467.52" width="6.30" height="1.68" fill="#f47676" stroke="#7a3030" stroke-width="0.7" />
<rect x="744.70" y="467.52" width="6.30" height="1.68" fill="#f47676" stroke="#7a3030" stroke-width="0.7" />
<rect x="763.60" y="467.52" width="6.30" height="1.68" fill="#f47676" stroke="#7a3030" stroke-width="0.7" />
<line x1="628.60" y1="351.00" x2="628.60" y2="469.70" stroke="#000" stroke-width="1.5" />
<line x1="628.10" y1="469.20" x2="785.40" y2="469.20" stroke="#000" stroke-width="1.5" />
<line x1="626.30" y1="469.20" x2="628.60" y2="469.20" stroke="#000" stroke-width="1.1" />
<line x1="626.30" y1="444.07" x2="628.60" y2="444.07" stroke="#000" stroke-width="1.1" />
<line x1="626.30" y1="418.95" x2="628.60" y2="418.95" stroke="#000" stroke-width="1.1" />
<line x1="626.30" y1="393.82" x2="628.60" y2="393.82" stroke="#000" stroke-width="1.1" />
<line x1="626.30" y1="368.70" x2="628.60" y2="368.70" stroke="#000" stroke-width="1.1" />
<line x1="628.60" y1="469.20" x2="628.60" y2="471.50" stroke="#000" stroke-width="1.1" />
<line x1="667.90" y1="469.20" x2="667.90" y2="471.50" stroke="#000" stroke-width="1.1" />
<line x1="707.20" y1="469.20" x2="707.20" y2="471.50" stroke="#000" stroke-width="1.1" />
<line x1="746.30" y1="469.20" x2="746.30" y2="471.50" stroke="#000" stroke-width="1.1" />
<line x1="785.40" y1="469.20" x2="785.40" y2="471.50" stroke="#000" stroke-width="1.1" />
<text  x="621.40" y="373.40" font-size="13.4" text-anchor="end" fill="#000" font-weight="normal" font-style="normal" font-family='"Liberation Sans", sans-serif' >60</text>
<text  x="621.40" y="423.80" font-size="13.4" text-anchor="end" fill="#000" font-weight="normal" font-style="normal" font-family='"Liberation Sans", sans-serif' >30</text>
<text  x="621.40" y="473.40" font-size="13.4" text-anchor="end" fill="#000" font-weight="normal" font-style="normal" font-family='"Liberation Sans", sans-serif' >0</text>
<text  x="628.60" y="484.40" font-size="13.2" text-anchor="middle" fill="#000" font-weight="normal" font-style="normal" font-family='"Liberation Sans", sans-serif' >0.25</text>
<text  x="706.60" y="484.40" font-size="13.2" text-anchor="middle" fill="#000" font-weight="normal" font-style="normal" font-family='"Liberation Sans", sans-serif' >0.50</text>
<text  x="784.80" y="484.40" font-size="13.2" text-anchor="middle" fill="#000" font-weight="normal" font-style="normal" font-family='"Liberation Sans", sans-serif' >0.75</text>
<text  x="617.30" y="500.50" font-size="14.8" text-anchor="start" fill="#000" font-weight="normal" font-style="normal" font-family='"Liberation Sans", sans-serif' >Interval between peaks (μs)</text>
<text transform="translate(596.2,415.1) rotate(-90)" font-size="14" text-anchor="middle"   font-family='"Liberation Sans", sans-serif'><tspan font-style="normal">Count</tspan></text>
<rect x="671.60" y="354.30" width="28.00" height="13.00" fill="#f47676" stroke="#7a3030" stroke-width="0.7" />
<text x="704.6" y="365.4" font-size="13.3" text-anchor="start"   font-family='"Liberation Sans", sans-serif'><tspan font-style="italic">V</tspan><tspan font-size="8.8" dy="3">ext</tspan><tspan dy="-3"> = 1.38 V</tspan></text>
<rect x="686.60" y="381.30" width="83.40" height="61.70" fill="none" stroke="#000" stroke-width="1.3" />
<line x1="686.60" y1="381.00" x2="686.60" y2="443.50" stroke="#000" stroke-width="1.8" />
<rect x="688.50" y="436.80" width="2.80" height="6.20" fill="#000" stroke="none" stroke-width="1" />
<rect x="695.10" y="436.80" width="2.80" height="6.20" fill="#000" stroke="none" stroke-width="1" />
<rect x="699.80" y="436.80" width="1.80" height="6.20" fill="#000" stroke="none" stroke-width="1" />
<rect x="702.60" y="436.80" width="1.90" height="6.20" fill="#000" stroke="none" stroke-width="1" />
<rect x="708.30" y="436.80" width="3.70" height="6.20" fill="#000" stroke="none" stroke-width="1" />
<rect x="716.70" y="436.80" width="3.30" height="6.20" fill="#000" stroke="none" stroke-width="1" />
<rect x="721.40" y="436.80" width="8.50" height="6.20" fill="#000" stroke="none" stroke-width="1" />
<rect x="730.80" y="436.80" width="1.90" height="6.20" fill="#000" stroke="none" stroke-width="1" />
<rect x="735.00" y="436.80" width="1.50" height="6.20" fill="#000" stroke="none" stroke-width="1" />
<rect x="737.40" y="436.80" width="2.50" height="6.20" fill="#000" stroke="none" stroke-width="1" />
<rect x="753.40" y="436.80" width="3.80" height="6.20" fill="#000" stroke="none" stroke-width="1" />
<rect x="758.50" y="424.50" width="1.50" height="18.50" fill="#000" stroke="none" stroke-width="1" />
<rect x="763.70" y="436.80" width="2.80" height="6.20" fill="#000" stroke="none" stroke-width="1" />
<line x1="684.50" y1="381.30" x2="686.60" y2="381.30" stroke="#000" stroke-width="1.1" />
<line x1="684.50" y1="443.00" x2="686.60" y2="443.00" stroke="#000" stroke-width="1.1" />
<line x1="686.60" y1="443.00" x2="686.60" y2="445.00" stroke="#000" stroke-width="1.1" />
<line x1="770.00" y1="443.00" x2="770.00" y2="445.00" stroke="#000" stroke-width="1.1" />
<text  x="680.50" y="386.20" font-size="13" text-anchor="end" fill="#000" font-weight="normal" font-style="normal" font-family='"Liberation Sans", sans-serif' >10</text>
<text  x="680.50" y="447.20" font-size="13" text-anchor="end" fill="#000" font-weight="normal" font-style="normal" font-family='"Liberation Sans", sans-serif' >0</text>
<text  x="687.00" y="459.50" font-size="13" text-anchor="middle" fill="#000" font-weight="normal" font-style="normal" font-family='"Liberation Sans", sans-serif' >0.75</text>
<text  x="769.80" y="459.50" font-size="13" text-anchor="middle" fill="#000" font-weight="normal" font-style="normal" font-family='"Liberation Sans", sans-serif' >4.00</text>
</svg>
</body></html>
